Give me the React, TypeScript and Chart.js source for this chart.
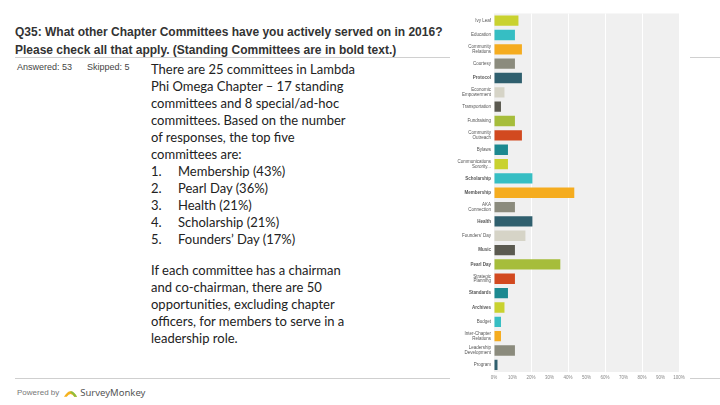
import React, { useEffect, useRef } from "react";
import { Chart, registerables } from "chart.js";
Chart.register(...registerables);

const categories: (string | string[])[] = [
  "Ivy Leaf",
  "Education",
  ["Community", "Relations"],
  "Courtesy",
  "Protocol",
  ["Economic", "Empowerment"],
  "Transportation",
  "Fundraising",
  ["Community", "Outreach"],
  "Bylaws",
  ["Communications", "Sorority..."],
  "Scholarship",
  "Membership",
  ["AKA", "Connection"],
  "Health",
  "Founders' Day",
  "Music",
  "Pearl Day",
  ["Strategic", "Planning"],
  "Standards",
  "Archives",
  "Budget",
  ["Inter-Chapter", "Relations"],
  ["Leadership", "Development"],
  "Program",
];

const responses: number[] = [
  7, 6, 8, 6, 8, 3, 2, 6, 8, 4, 4, 11, 23, 6, 11, 9, 6, 19, 6, 4, 3, 2, 2, 6, 1,
];
const answered = 53;
const skipped = 5;

const boldIdx: number[] = [4, 11, 12, 14, 16, 17, 19, 20];

const palette: string[] = [
  "#c9d22f",
  "#36bec3",
  "#f5ac1f",
  "#8b8b7d",
  "#2f5f6e",
  "#d6d4c7",
  "#5b5a50",
  "#a6bd3b",
  "#d2491f",
  "#1c8990",
];

const xTicks: string[] = ["0%", "10%", "20%", "30%", "40%", "50%", "60%", "70%", "80%", "90%", "100%"];

const bodyLines: string[] = [
  "There are 25 committees in Lambda",
  "Phi Omega Chapter \u2013 17 standing",
  "committees and 8 special/ad-hoc",
  "committees.  Based on the number",
  "of responses, the top five",
  "committees are:",
];
const topFive: [string, string][] = [
  ["1.", "Membership (43%)"],
  ["2.", "Pearl Day  (36%)"],
  ["3.", "Health (21%)"],
  ["4.", "Scholarship (21%)"],
  ["5.", "Founders\u2019 Day (17%)"],
];
const bodyLines2: string[] = [
  "If each committee has a chairman",
  "and co-chairman, there are 50",
  "opportunities, excluding chapter",
  "officers, for members to serve in a",
  "leadership role.",
];

const plotBg = {
  id: "plotBg",
  beforeDraw(chart: any) {
    const { ctx, chartArea } = chart;
    ctx.save();
    ctx.fillStyle = "#f0f0f0";
    ctx.fillRect(chartArea.left, chartArea.top, chartArea.right - chartArea.left, chartArea.bottom - chartArea.top);
    ctx.restore();
  },
};

const tickFamily = "'Liberation Sans', Arial, sans-serif";

function BarChart() {
  const ref = useRef<HTMLCanvasElement>(null);
  useEffect(() => {
    if (!ref.current) return;
    const pct = responses.map((r) => (r / answered) * 100);
    const chart = new Chart(ref.current, {
      type: "bar",
      data: {
        labels: categories,
        datasets: [
          {
            data: pct,
            backgroundColor: pct.map((_, i) => palette[i % palette.length]),
            barPercentage: 0.72,
            categoryPercentage: 1,
          },
        ],
      },
      options: {
        indexAxis: "y",
        animation: false,
        responsive: false,
        maintainAspectRatio: false,
        layout: { padding: { top: 5, right: 11, left: 0, bottom: 0 } },
        plugins: { legend: { display: false }, tooltip: { enabled: false } },
        scales: {
          x: {
            min: 0,
            max: 100,
            border: { display: false },
            grid: {
              color: (c: any) => (c.index % 2 === 0 && c.index > 0 ? "#ffffff" : "rgba(0,0,0,0)"),
              lineWidth: 1,
              drawTicks: false,
            },
            ticks: {
              stepSize: 10,
              autoSkip: false,
              maxRotation: 0,
              padding: 3,
              color: "#888",
              font: { size: 4.5, family: tickFamily },
              callback: (_v: any, i: number) => xTicks[i],
            },
            afterFit: (s: any) => {
              s.height = 14;
            },
          },
          y: {
            border: { display: false },
            grid: { display: false, drawTicks: false },
            ticks: {
              autoSkip: false,
              padding: 3,
              color: "#555",
              font: (c: any) => ({
                size: 4.5,
                family: tickFamily,
                weight: boldIdx.includes(c.index) ? "bold" : "normal",
                lineHeight: 1.1,
              }),
            },
            afterFit: (s: any) => {
              s.width = 44;
            },
          },
        },
      },
      plugins: [plotBg],
    });
    return () => chart.destroy();
  }, []);
  return <canvas ref={ref} width={240} height={378} style={{ width: 240, height: 378, display: "block" }} />;
}

export default function App() {
  const bodyFont = "Lato, 'Open Sans', sans-serif";
  const lh = 17;
  return (
    <div style={{ position: "absolute", left: 0, top: 0, width: 720, height: 405, background: "#fff", overflow: "hidden", fontFamily: "Arial, 'Liberation Sans', sans-serif" }}>
      <div style={{ position: "absolute", left: 15, top: 23, fontSize: 12, fontWeight: "bold", color: "#333", lineHeight: "18px", whiteSpace: "nowrap" }}>
        <div>Q35: What other Chapter Committees have you actively served on in 2016?</div>
        <div>Please check all that apply. (Standing Committees are in bold text.)</div>
      </div>
      <div style={{ position: "absolute", left: 15, top: 57, width: 705, height: 1, background: "#d0d0d0" }} />
      <div style={{ position: "absolute", left: 17, top: 62, fontSize: 9, color: "#444", whiteSpace: "nowrap" }}>
        Answered: {answered}
        <span style={{ marginLeft: 15 }}>Skipped: {skipped}</span>
      </div>
      <div style={{ position: "absolute", left: 151, top: 61, fontFamily: bodyFont, fontSize: 13, color: "#222", lineHeight: lh + "px", whiteSpace: "nowrap" }}>
        {bodyLines.map((l, i) => (
          <div key={"a" + i}>{l}</div>
        ))}
        {topFive.map(([n, t], i) => (
          <div key={"b" + i}>
            <span style={{ display: "inline-block", width: 27 }}>{n}</span>
            {t}
          </div>
        ))}
        <div style={{ height: 14 }} />
        {bodyLines2.map((l, i) => (
          <div key={"c" + i}>{l}</div>
        ))}
      </div>
      <div style={{ position: "absolute", left: 15, top: 378, width: 705, height: 1, background: "#cfcfcf" }} />
      <div style={{ position: "absolute", left: 17, top: 386, fontSize: 8, color: "#777", whiteSpace: "nowrap", display: "flex", alignItems: "center" }}>
        <span>Powered by</span>
        <svg width="15" height="10" viewBox="0 0 16 10" style={{ marginLeft: 4, marginRight: 2 }}>
          <path d="M1 9 Q8 -3 15 9 L12 9 Q8 3 4 9 Z" fill="#f5b21e" />
          <path d="M8 3 Q12 3 15 9 L12 9 Q10 5 8 5 Z" fill="#8cbf3f" />
        </svg>
        <span style={{ fontSize: 9.5, color: "#555", fontFamily: "'Noto Sans', Arial, sans-serif" }}>SurveyMonkey</span>
      </div>
      <div style={{ position: "absolute", left: 450, top: 8, width: 240, height: 378, background: "#fff" }}>
        <BarChart />
      </div>
    </div>
  );
}
